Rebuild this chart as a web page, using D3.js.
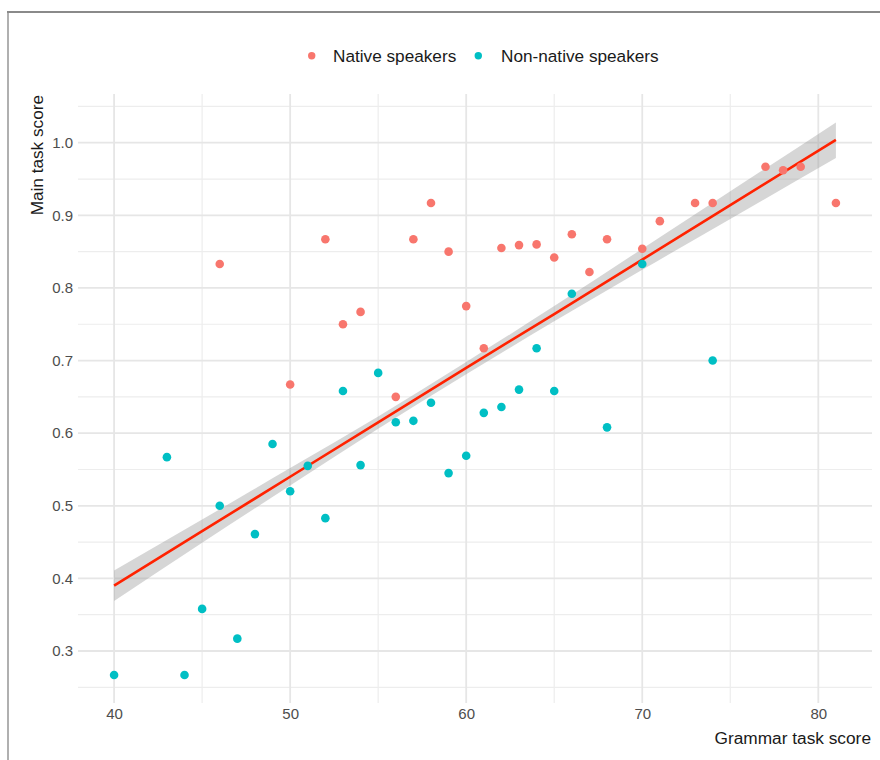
<!DOCTYPE html>
<html>
<head>
<meta charset="utf-8">
<script src="https://cdn.jsdelivr.net/npm/d3@7/dist/d3.min.js"></script>
<style>
  html, body { margin: 0; padding: 0; background: #fff; }
  svg { display: block; font-family: "Liberation Sans", Arial, sans-serif; }
</style>
</head>
<body>
<svg id="chart" width="880" height="760"></svg>
<script>
// ---- Data ----
const groups = ["Native speakers", "Non-native speakers"];
const groupColors = ["#F8766D", "#00BFC4"];

const nativeX = [46, 50, 52, 53, 54, 56, 57, 58, 59, 60, 61, 62, 63, 64, 65, 66, 67, 68, 70, 71, 73, 74, 77, 78, 79, 81];
const nativeY = [0.833, 0.667, 0.867, 0.750, 0.767, 0.650, 0.867, 0.917, 0.850, 0.775, 0.717, 0.855, 0.859, 0.860, 0.842, 0.874, 0.822, 0.867, 0.854, 0.892, 0.917, 0.917, 0.967, 0.962, 0.967, 0.917];

const nonNativeX = [40, 43, 44, 45, 46, 47, 48, 49, 50, 51, 52, 53, 54, 55, 56, 57, 58, 59, 60, 61, 62, 63, 64, 65, 66, 68, 70, 74];
const nonNativeY = [0.267, 0.567, 0.267, 0.358, 0.500, 0.317, 0.461, 0.585, 0.520, 0.555, 0.483, 0.658, 0.556, 0.683, 0.615, 0.617, 0.642, 0.545, 0.569, 0.628, 0.636, 0.660, 0.717, 0.658, 0.792, 0.608, 0.833, 0.700];

// fitted regression line and its confidence band
const fitX    = [40, 45, 50, 55, 60, 65, 70, 75, 81];
const fitY    = [0.390, 0.465, 0.540, 0.615, 0.690, 0.764, 0.839, 0.914, 1.004];
const bandLow = [0.369, 0.449, 0.528, 0.606, 0.681, 0.754, 0.825, 0.895, 0.979];
const bandHigh= [0.411, 0.481, 0.552, 0.623, 0.698, 0.775, 0.854, 0.933, 1.028];

const xTicks = [40, 50, 60, 70, 80];
const xMinor = [45, 55, 65, 75];
const yTicks = [0.3, 0.4, 0.5, 0.6, 0.7, 0.8, 0.9, 1.0];
const yMinor = [0.25, 0.35, 0.45, 0.55, 0.65, 0.75, 0.85, 0.95, 1.05];

const xDomain = [37.95, 83.05];
const yDomain = [0.2284, 1.0671];

// ---- Layout ----
const svg = d3.select("#chart");
const panel = { left: 78, right: 872, top: 94, bottom: 703 };

const x = d3.scaleLinear().domain(xDomain).range([panel.left, panel.right]);
const y = d3.scaleLinear().domain(yDomain).range([panel.bottom, panel.top]);

// outer frame (cropped)
svg.append("line").attr("x1", 8).attr("x2", 8).attr("y1", 12).attr("y2", 770)
  .attr("stroke", "#b0b0b0").attr("stroke-width", 2);
svg.append("line").attr("x1", 7).attr("x2", 890).attr("y1", 12).attr("y2", 12)
  .attr("stroke", "#8a8a8a").attr("stroke-width", 2);

// grid
const grid = svg.append("g");
grid.selectAll(".ymin").data(yMinor).join("line")
  .attr("x1", panel.left).attr("x2", panel.right)
  .attr("y1", d => y(d)).attr("y2", d => y(d))
  .attr("stroke", "#ededed").attr("stroke-width", 1.2);
grid.selectAll(".xmin").data(xMinor).join("line")
  .attr("y1", panel.top).attr("y2", panel.bottom)
  .attr("x1", d => x(d)).attr("x2", d => x(d))
  .attr("stroke", "#ededed").attr("stroke-width", 1.2);
grid.selectAll(".ymaj").data(yTicks).join("line")
  .attr("x1", panel.left).attr("x2", panel.right)
  .attr("y1", d => y(d)).attr("y2", d => y(d))
  .attr("stroke", "#e6e6e6").attr("stroke-width", 1.8);
grid.selectAll(".xmaj").data(xTicks).join("line")
  .attr("y1", panel.top).attr("y2", panel.bottom)
  .attr("x1", d => x(d)).attr("x2", d => x(d))
  .attr("stroke", "#e6e6e6").attr("stroke-width", 1.8);

// axes (labels only)
const xAxis = d3.axisBottom(x).tickValues(xTicks).tickSize(0).tickPadding(0).tickFormat(d3.format("d"));
const gx = svg.append("g").attr("transform", `translate(0, 708)`).call(xAxis);
gx.select(".domain").remove();
gx.selectAll("text").attr("fill", "#4d4d4d").attr("font-size", 15)
  .attr("font-family", "Liberation Sans, Arial, sans-serif").attr("dy", "0.71em");

const yAxis = d3.axisLeft(y).tickValues(yTicks).tickSize(0).tickPadding(0).tickFormat(d3.format(".1f"));
const gy = svg.append("g").attr("transform", `translate(73, 0)`).call(yAxis);
gy.select(".domain").remove();
gy.selectAll("text").attr("fill", "#4d4d4d").attr("font-size", 15)
  .attr("font-family", "Liberation Sans, Arial, sans-serif");

// axis titles
svg.append("text").attr("x", 871).attr("y", 744).attr("text-anchor", "end")
  .attr("font-size", 17.3).attr("fill", "#1a1a1a").text("Grammar task score");
svg.append("text").attr("transform", "translate(43, 95) rotate(-90)")
  .attr("text-anchor", "end").attr("font-size", 17.2).attr("fill", "#1a1a1a")
  .text("Main task score");

// confidence band and fitted line
const bandData = fitX.map((v, i) => ({ x: v, lo: bandLow[i], hi: bandHigh[i] }));
svg.append("path").datum(bandData)
  .attr("d", d3.area().x(d => x(d.x)).y0(d => y(d.lo)).y1(d => y(d.hi)).curve(d3.curveMonotoneX))
  .attr("fill", "#999999").attr("fill-opacity", 0.4);

const lineData = fitX.map((v, i) => ({ x: v, y: fitY[i] }));
svg.append("path").datum(lineData)
  .attr("d", d3.line().x(d => x(d.x)).y(d => y(d.y)))
  .attr("fill", "none").attr("stroke", "#FF2200").attr("stroke-width", 2.6);

// points
const seriesX = [nativeX, nonNativeX];
const seriesY = [nativeY, nonNativeY];
seriesX.forEach((xs, gi) => {
  svg.append("g").selectAll("circle").data(xs.map((v, i) => [v, seriesY[gi][i]])).join("circle")
    .attr("cx", d => x(d[0])).attr("cy", d => y(d[1])).attr("r", 4.3)
    .attr("fill", groupColors[gi]);
});

// legend
const legend = svg.append("g");
const legendPos = [[311.7, 333], [478.3, 501]];
groups.forEach((g, i) => {
  legend.append("circle").attr("cx", legendPos[i][0]).attr("cy", 55.7).attr("r", 3.7)
    .attr("fill", groupColors[i]);
  legend.append("text").attr("x", legendPos[i][1]).attr("y", 61.8)
    .attr("font-size", 17.2).attr("fill", "#1a1a1a").text(g);
});
</script>
</body>
</html>
